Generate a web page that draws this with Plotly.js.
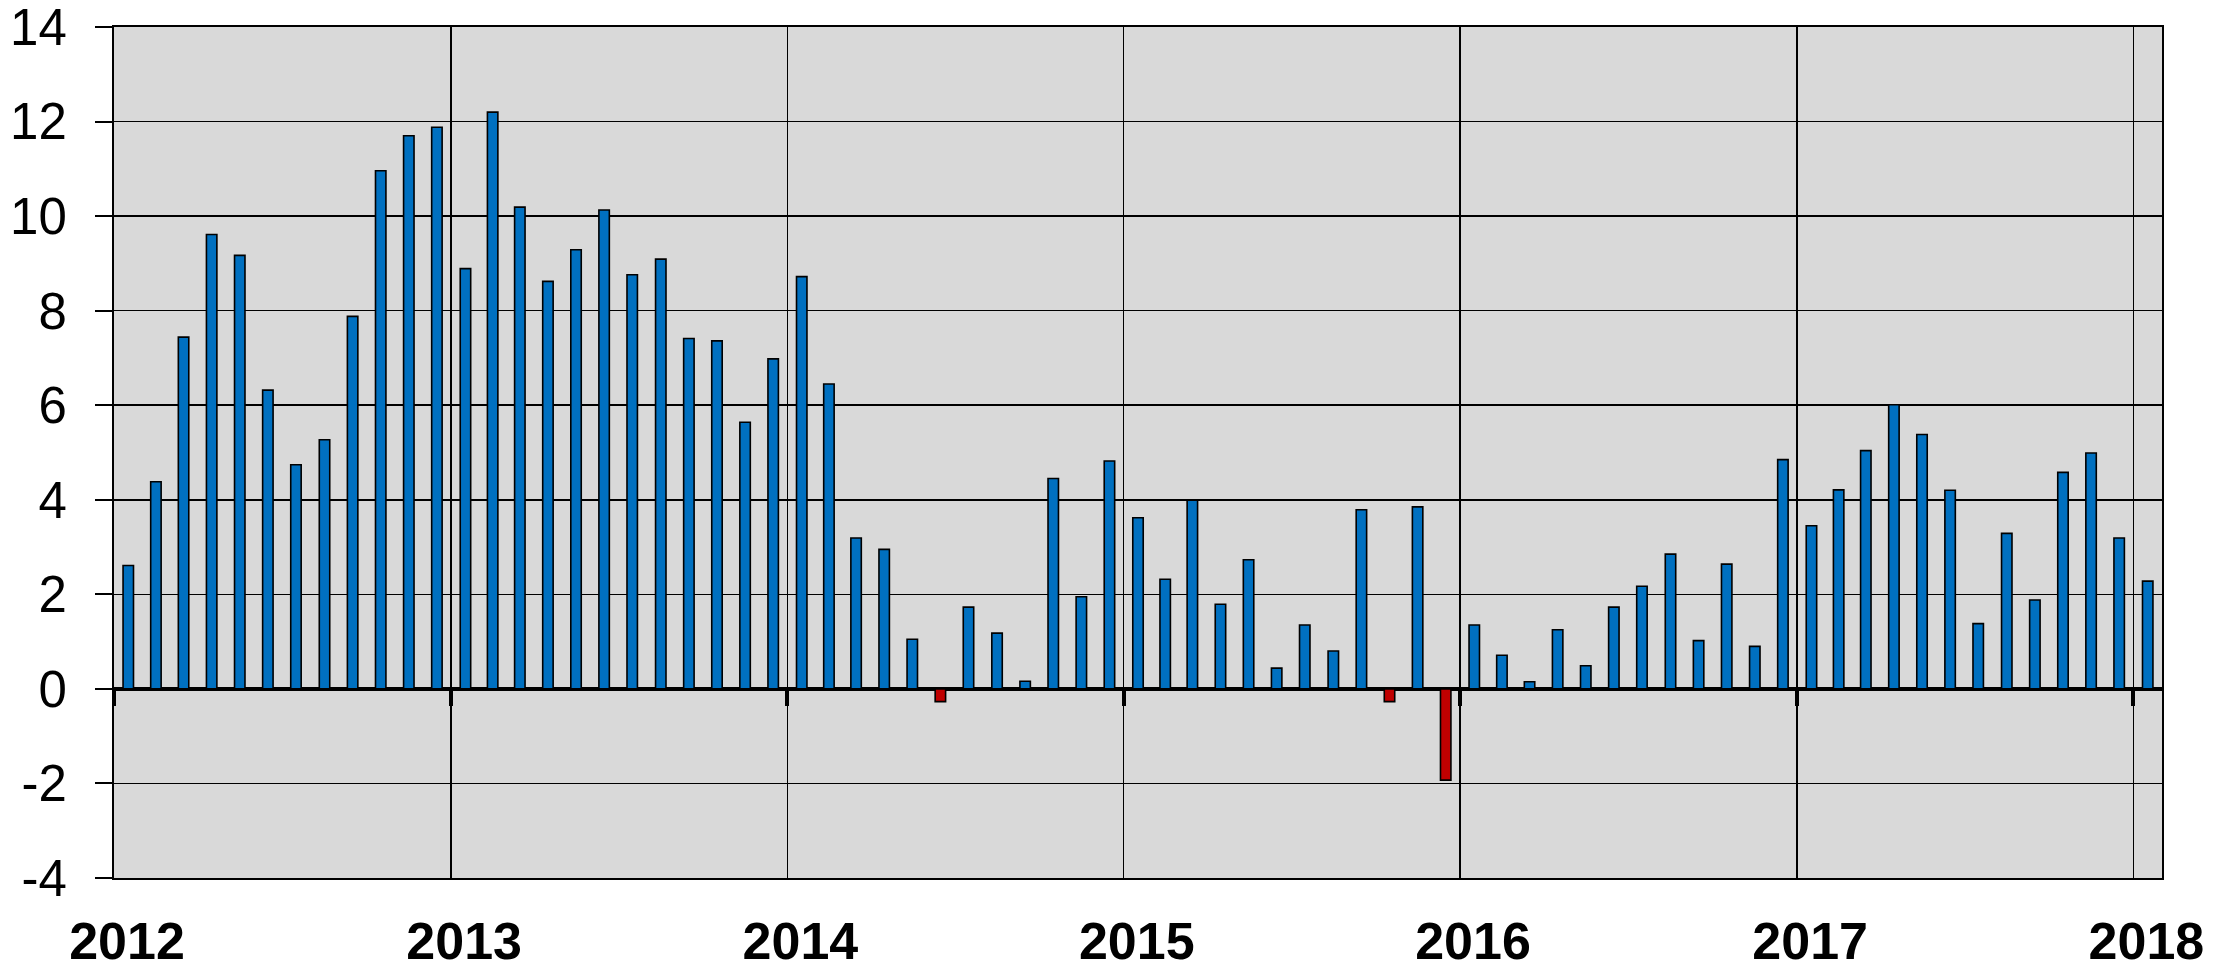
<!DOCTYPE html>
<html>
<head>
<meta charset="utf-8">
<script src="https://cdn.plot.ly/plotly-3.0.1.min.js"></script>
<style>html,body{margin:0;padding:0;background:#fff;}#chart{width:2232px;height:967px;}</style>
</head>
<body>
<div id="chart"></div>
<script>
// Monthly values, Jan 2012 .. Jan 2018
const months = [
  "2012-01","2012-02","2012-03","2012-04","2012-05","2012-06","2012-07","2012-08","2012-09","2012-10","2012-11","2012-12",
  "2013-01","2013-02","2013-03","2013-04","2013-05","2013-06","2013-07","2013-08","2013-09","2013-10","2013-11","2013-12",
  "2014-01","2014-02","2014-03","2014-04","2014-05","2014-06","2014-07","2014-08","2014-09","2014-10","2014-11","2014-12",
  "2015-01","2015-02","2015-03","2015-04","2015-05","2015-06","2015-07","2015-08","2015-09","2015-10","2015-11","2015-12",
  "2016-01","2016-02","2016-03","2016-04","2016-05","2016-06","2016-07","2016-08","2016-09","2016-10","2016-11","2016-12",
  "2017-01","2017-02","2017-03","2017-04","2017-05","2017-06","2017-07","2017-08","2017-09","2017-10","2017-11","2017-12",
  "2018-01"
];
const values = [
  2.61, 4.38, 7.44, 9.61, 9.17, 6.32, 4.74, 5.27, 7.88, 10.96, 11.70, 11.88,
  8.89, 12.20, 10.19, 8.62, 9.29, 10.13, 8.76, 9.09, 7.41, 7.36, 5.64, 6.98,
  8.72, 6.45, 3.19, 2.95, 1.05, -0.27, 1.73, 1.18, 0.16, 4.45, 1.95, 4.82,
  3.62, 2.32, 3.99, 1.79, 2.73, 0.44, 1.35, 0.80, 3.79, -0.27, 3.85, -1.93,
  1.35, 0.71, 0.15, 1.25, 0.49, 1.73, 2.17, 2.85, 1.02, 2.64, 0.90, 4.85,
  3.45, 4.21, 5.04, 6.01, 5.38, 4.20, 1.38, 3.29, 1.88, 4.58, 4.99, 3.19,
  2.28
];
const yearTicks = ["2012-01-01","2013-01-01","2014-01-01","2015-01-01","2016-01-01","2017-01-01","2018-01-01"];
const yearLabels = ["2012","2013","2014","2015","2016","2017","2018"];
const yTicks = [-4,-2,0,2,4,6,8,10,12,14];

const posColor = "#0070C0";
const negColor = "#C00000";
const colors = values.map(v => v < 0 ? negColor : posColor);

const xRange = ["2012-01-01", "2018-02-01"];

const traces = [
  {
    type: "bar",
    x: months,
    y: values,
    xperiod: "M1",
    xperiodalignment: "middle",
    width: 0.98e9,
    marker: { color: colors, line: { color: "#000000", width: 1.6 } },
    hoverinfo: "x+y",
    showlegend: false
  },
  {
    type: "scatter",
    mode: "markers",
    x: [xRange[0]],
    y: [0],
    xaxis: "x2",
    marker: { opacity: 0, size: 1 },
    hoverinfo: "skip",
    showlegend: false
  }
];

const layout = {
  width: 2232,
  height: 967,
  margin: { l: 114, r: 70, t: 27, b: 89 },
  paper_bgcolor: "#ffffff",
  plot_bgcolor: "#D9D9D9",
  font: { family: "Liberation Sans, Arial, sans-serif", color: "#000000" },
  bargap: 0,
  xaxis: {
    type: "date",
    range: xRange,
    tickmode: "array",
    tickvals: yearTicks,
    ticktext: yearLabels,
    ticks: "",
    showgrid: true,
    gridcolor: "#000000",
    gridwidth: 1.5,
    showline: true,
    linecolor: "#000000",
    linewidth: 2,
    mirror: true,
    tickfont: { size: 52, family: "Liberation Sans, Arial, sans-serif", weight: "bold", color: "#000000" },
    ticklabelstandoff: 17,
    ticklabelshift: 13,
    ticklabeloverflow: "allow",
    zeroline: false
  },
  xaxis2: {
    type: "date",
    overlaying: "x",
    anchor: "free",
    position: 4 / 18,
    range: xRange,
    tickmode: "array",
    tickvals: yearTicks,
    ticks: "outside",
    ticklen: 16,
    tickwidth: 4,
    tickcolor: "#000000",
    showticklabels: false,
    showgrid: false,
    showline: false,
    zeroline: false
  },
  yaxis: {
    range: [-4, 14],
    tickmode: "array",
    tickvals: yTicks,
    ticktext: yTicks.map(String),
    ticks: "outside",
    ticklen: 17,
    tickwidth: 2,
    tickcolor: "#000000",
    showgrid: true,
    gridcolor: "#000000",
    gridwidth: 1.5,
    zeroline: true,
    zerolinecolor: "#000000",
    zerolinewidth: 4,
    showline: true,
    linecolor: "#000000",
    linewidth: 2,
    mirror: true,
    tickfont: { size: 51, family: "Liberation Sans, Arial, sans-serif", color: "#000000" },
    ticklabelstandoff: 18,
    ticklabeloverflow: "allow"
  }
};

Plotly.newPlot("chart", traces, layout, { displayModeBar: false, staticPlot: true });
</script>
</body>
</html>
